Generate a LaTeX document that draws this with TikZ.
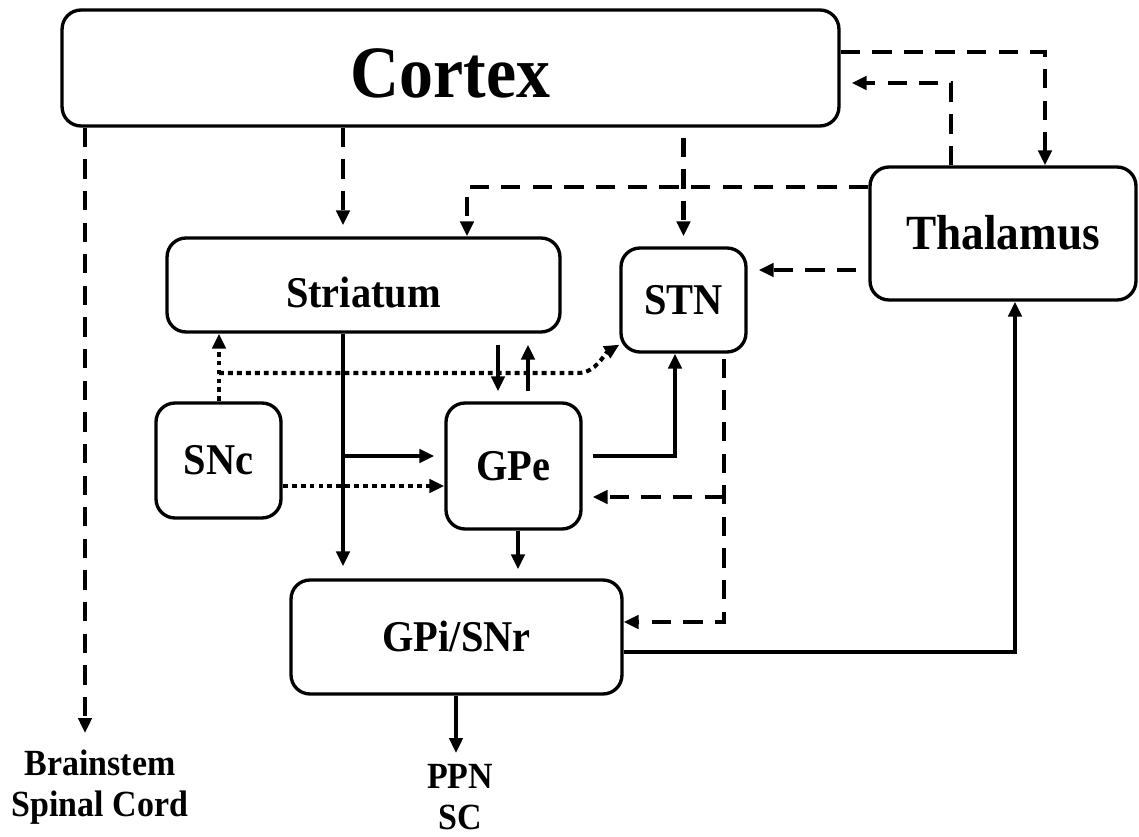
\documentclass[tikz,border=0pt]{standalone}
\usepackage{fontspec}
\setmainfont{Liberation Serif}[FakeStretch=0.92]
\usetikzlibrary{arrows.meta,calc}
\begin{document}
\begin{tikzpicture}[x=0.02cm,y=-0.02cm,
  box/.style={draw,line width=1.9pt,rounded corners=0.38cm,inner sep=0pt,
    font=\bfseries\fontsize{25pt}{30pt}\selectfont,text height=16.4pt,text depth=0pt},
  arr/.style={-{Triangle[length=8.5pt,width=7.5pt]}},
  sol/.style={line width=2.3pt,arr},
  dsh/.style={line width=2.3pt,dash pattern=on 11pt off 7pt,arr},
  dot/.style={line width=2.3pt,dash pattern=on 2.8pt off 2.3pt,arr},
  lbl/.style={font=\bfseries\fontsize{21pt}{23pt}\selectfont,align=center,inner sep=0pt}
]
\useasboundingbox (0,0) rectangle (1139,837);
\fill[white] (0,0) rectangle (1139,837);

% boxes
\node[box,minimum width=15.54cm,minimum height=2.32cm,
  font=\bfseries\fontsize{42pt}{48pt}\selectfont,text height=33.8pt] (ctx) at (450.5,68) {Cortex};
\node[box,minimum width=7.86cm,minimum height=1.88cm,text height=25.5pt] (str) at (363.5,285) {Striatum};
\node[box,minimum width=2.5cm,minimum height=2.08cm] (stn) at (683.5,300) {STN};
\node[box,minimum width=5.32cm,minimum height=2.66cm,
  font=\bfseries\fontsize{28pt}{33pt}\selectfont,text height=18.4pt] (thl) at (1003,233.5) {Thalamus};
\node[box,minimum width=2.5cm,minimum height=2.3cm] (snc) at (218.5,460.5) {SNc};
\node[box,minimum width=2.7cm,minimum height=2.52cm] (gpe) at (513.5,466) {GPe};
\node[box,minimum width=6.62cm,minimum height=2.28cm] (gpi) at (456.5,637) {GPi/SNr};

% text labels
\node[lbl] (bs) at (100,787) {Brainstem\\Spinal Cord};
\node[lbl] (ppn) at (460,797) {PPN\\SC};

% helper coordinates
\coordinate (bsTip) at (85,733);
\coordinate (ppnTip) at (456,753);
\coordinate (strBr) at (343,456);
\coordinate (cThIn) at (1045,52);
\coordinate (cThOut) at (951,83);
\coordinate (cThStr) at (467,187);
\coordinate (cThStn) at (0,270);
\coordinate (cStnOut) at (724,622);
\coordinate (stnBr) at (724,497);
\coordinate (cGpiTh) at (1015,652);
\coordinate (cGpeStn) at (675,456);
\coordinate (cStrGpe) at (498,0);
\coordinate (cGpeStr) at (528,0);
\coordinate (cGpeGpi) at (518,0);
\coordinate (sncBr) at (219,373);
\coordinate (sncBend) at (578,373);
\coordinate (cSncGpe) at (0,486);

% dashed connectors
\draw[dsh] (ctx.south -| bsTip) -- (bsTip);
\draw[dsh,shorten >=0.22cm] (ctx.south -| strBr) -- (str.north -| strBr);
\draw[dsh,shorten <=0.2cm,shorten >=0.2cm] (ctx.south -| stn.north) -- (stn.north);
\draw[dsh] (ctx.east |- cThIn) -- (cThIn) -- (thl.north -| cThIn);
\draw[dsh,shorten >=0.22cm] (thl.north -| cThOut) -- (cThOut) -- (ctx.east |- cThOut);
\draw[dsh] (thl.west |- cThStr) -- (cThStr) -- (str.north -| cThStr);
\draw[dsh,shorten <=0.24cm,shorten >=0.22cm] (thl.west |- cThStn) -- (stn.east |- cThStn);
\draw[dsh,shorten <=0.1cm] (stn.south -| cStnOut) -- (cStnOut) -- (gpi.east |- cStnOut);
\draw[dsh,shorten >=0.2cm] (stnBr) -- (gpe.east |- stnBr);

% solid connectors
\draw[sol] (gpi.east |- cGpiTh) -- (cGpiTh) -- (thl.south -| cGpiTh);
\draw[sol,shorten <=0.2cm] (gpe.east |- cGpeStn) -- (cGpeStn) -- (stn.south -| cGpeStn);
\draw[sol,shorten >=0.24cm] (str.south -| strBr) -- (gpi.north -| strBr);
\draw[sol,shorten >=0.2cm] (strBr) -- (gpe.west |- strBr);
\draw[sol,shorten <=0.22cm,shorten >=0.2cm] (str.south -| cStrGpe) -- (gpe.north -| cStrGpe);
\draw[sol,shorten <=0.2cm,shorten >=0.22cm] (gpe.north -| cGpeStr) -- (str.south -| cGpeStr);
\draw[sol,shorten >=0.18cm] (gpe.south -| cGpeGpi) -- (gpi.north -| cGpeGpi);
\draw[sol] (gpi.south -| ppnTip) -- (ppnTip);

% dotted connectors
\draw[dot] (snc.north -| sncBr) -- (str.south -| sncBr);
\draw[dot] (sncBr) -- (sncBend) .. controls (596,373) and (604,354) .. ($(stn.south west)+(0,-9)$);
\draw[dot] (snc.east |- cSncGpe) -- (gpe.west |- cSncGpe);
\end{tikzpicture}
\end{document}
